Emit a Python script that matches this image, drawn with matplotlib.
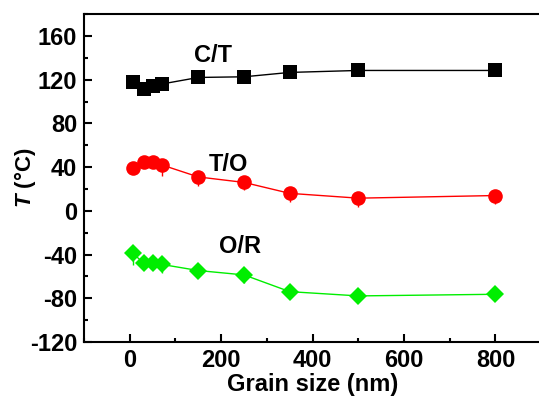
import matplotlib
matplotlib.use('Agg')
import matplotlib.pyplot as plt
from matplotlib.ticker import MultipleLocator

# ================== DATOS ==================
grain_size = [7, 30, 50, 70, 150, 250, 350, 500, 800]

t_ct = [118, 111, 114, 116, 122, 122.6, 126.6, 128.4, 128.4]
t_to = [39, 44.5, 44.5, 42, 31, 26, 16, 11.6, 14]
t_or = [-38.7, -47.9, -48, -49, -54.6, -58.6, -73.9, -77.8, -76.3]

err_ct = [1, 1, 1, 1, 1, 1, 1, 1, 1]
err_to = [2, 2, 2, 10, 8.5, 6.7, 7.7, 7.7, 7.6]
err_or = [10.7, 2, 2, 7.6, 2, 7.6, 2, 2, 2]

etiquetas = ['C/T', 'T/O', 'O/R']
pos_etiquetas = [(182, 142), (215, 42), (241, -32.7)]

# ================== ESTILO ==================
plt.rcParams['font.family'] = ['Liberation Sans', 'DejaVu Sans']
plt.rcParams['font.weight'] = 'bold'
plt.rcParams['axes.unicode_minus'] = False
plt.rcParams['mathtext.fontset'] = 'custom'
plt.rcParams['mathtext.it'] = 'Liberation Sans:italic:bold'
plt.rcParams['mathtext.rm'] = 'Liberation Sans:bold'

fig = plt.figure(figsize=(5.39, 4.01), dpi=100)
ax = fig.add_axes([0.156, 0.147, 0.848, 0.818])

series = [
    (t_ct, err_ct, 's', 'black', 9.5),
    (t_to, err_to, 'o', '#ff0000', 10.5),
    (t_or, err_or, 'D', '#00ee00', 9.5),
]
for y, err, marker, color, ms in series:
    # barras de error solo hacia abajo
    ax.errorbar(grain_size, y, yerr=[err, [0] * len(err)], fmt='-', marker=marker,
                color=color, ms=ms, lw=1, elinewidth=1, capsize=3, capthick=1,
                markeredgewidth=0)

for texto, (x, y) in zip(etiquetas, pos_etiquetas):
    ax.text(x, y, texto, fontsize=17, fontweight='bold', ha='center', va='center')

ax.set_xlim(-100, 900)
ax.set_ylim(-120, 180)
ax.xaxis.set_major_locator(MultipleLocator(200))
ax.xaxis.set_minor_locator(MultipleLocator(100))
ax.yaxis.set_minor_locator(MultipleLocator(20))
ax.set_yticks([-120, -80, -40, 0, 40, 80, 120, 160])

ax.tick_params(which='both', direction='in', top=False, right=False, width=1.5)
ax.tick_params(which='major', length=6, labelsize=17, pad=5)
ax.tick_params(which='minor', length=3)
for lab in ax.get_xticklabels() + ax.get_yticklabels():
    lab.set_fontweight('bold')
for sp in ax.spines.values():
    sp.set_linewidth(1.5)
ax.spines['right'].set_visible(False)

ax.set_xlabel('Grain size (nm)', fontsize=17, fontweight='bold', labelpad=1)
ax.set_ylabel(r'$T$ (°C)', fontsize=16, fontweight='bold', labelpad=-6)

fig.savefig('out.png', dpi=100)
